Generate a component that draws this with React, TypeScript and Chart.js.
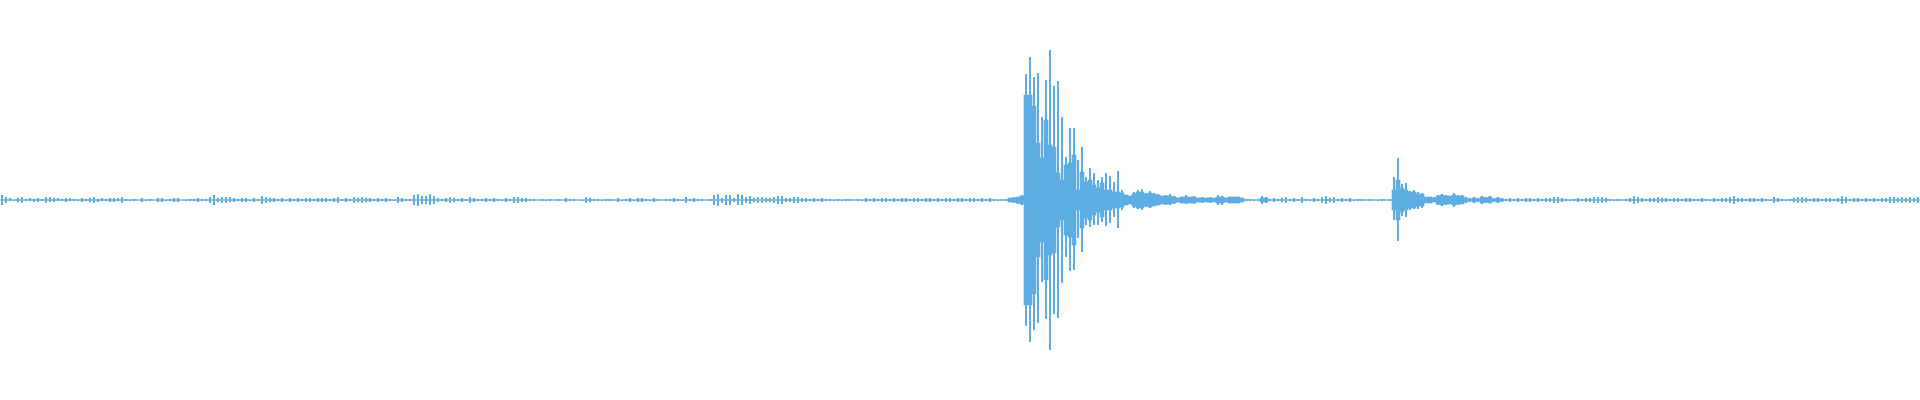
import React, { useEffect, useRef } from "react";
import { Chart, registerables } from "chart.js";

Chart.register(...registerables);

// Waveform envelope, one bin per time slice (480 slices), amplitude units on a ±200 scale.
// Positive peak of each slice.
const upper = [
  5,3,2,0,2,3,1,2,1,2, 1,3,3,2,2,1,2,2,1,0, 2,1,2,3,1,2,1,2,2,2, 3,1,0,1,0,2,0,1,0,2,
  2,0,1,2,2,0,0,1,1,2, 1,1,3,5,2,3,3,3,2,1, 2,2,0,2,1,4,3,2,2,1, 2,0,2,1,2,1,2,2,1,2,
  2,2,1,2,3,1,2,1,3,2, 3,2,2,1,2,1,2,1,0,3, 2,1,1,5,6,4,4,6,4,2, 1,2,3,2,1,2,1,3,2,1,
  1,2,1,2,1,0,2,1,3,3, 2,2,1,1,0,1,0,1,0,1, 0,2,1,1,0,0,3,2,1,1, 0,1,1,0,2,0,1,2,0,2,
  2,1,0,2,1,0,1,1,2,1, 0,3,1,2,1,1,0,1,5,6, 2,5,5,2,6,5,3,4,2,3, 3,2,2,3,4,4,2,2,3,3,
  2,2,1,2,1,2,1,1,0,1, 0,1,1,0,1,0,2,1,2,1, 2,2,1,2,1,2,2,1,2,2, 1,2,2,1,2,1,2,2,1,2,
  2,1,2,2,1,2,1,2,1,0, 1,1,2,3,3,5,126,143,123,127, 83,120,150,114,119,83,43,72,72,40, 53,23,32,27,20,23,27,24,18,29,
  10,5,4,8,10,11,7,9,7,6, 4,5,6,4,2,3,5,3,4,2, 3,2,3,2,5,4,2,3,3,3, 2,1,1,0,1,4,3,1,2,1,
  2,3,1,2,1,3,1,0,2,1, 3,4,2,3,1,2,1,2,0,1, 1,0,1,0,0,1,0,1,23,42, 16,17,9,10,8,7,3,3,3,5,
  6,5,4,7,5,5,3,2,3,2, 4,3,4,2,3,2,1,2,1,2, 1,2,2,1,2,1,2,2,3,3, 2,1,0,1,2,1,2,2,3,3,
  3,2,1,0,1,0,1,2,4,3, 2,1,2,2,3,2,2,1,2,2, 1,2,2,1,1,2,1,0,2,1, 2,2,3,4,2,2,1,2,2,1,
  2,1,0,3,2,1,0,1,2,3, 3,2,1,2,2,1,2,2,1,2, 4,3,1,2,2,1,2,1,2,1, 2,2,3,3,2,3,2,3,2,3,
];

// Negative peak of each slice.
const lower = [
  -5,-3,-1,-1,-2,-3,-1,-1,-2,-2, -1,-3,-2,-2,-1,-1,-2,-1,-1,-1, -2,-1,-2,-3,-2,-1,-1,-2,-2,-1, -3,-1,-1,-1,0,-2,-1,-1,0,-2,
  -2,-1,-1,-2,-2,0,-1,-1,-1,-2, -1,-1,-3,-5,-2,-3,-3,-2,-2,-1, -2,-2,-1,-2,-1,-4,-3,-2,-2,-1, -2,-1,-2,-1,-2,-1,-2,-2,-1,-2,
  -2,-2,-1,-2,-3,-1,-2,-1,-3,-2, -3,-2,-2,-1,-2,-1,-2,-1,-1,-3, -2,-1,-1,-5,-6,-4,-4,-5,-4,-2, -1,-2,-3,-2,-1,-2,-1,-3,-2,-1,
  -1,-2,-1,-2,-1,-1,-2,-1,-3,-3, -2,-2,-1,-1,0,-1,-1,-1,0,-1, 0,-2,-1,-1,0,-1,-3,-2,-1,-1, -1,-1,-1,0,-2,-1,-1,-2,-1,-2,
  -2,-1,-1,-2,-1,0,-1,-1,-2,-1, -1,-3,-1,-2,-1,-1,0,-1,-5,-6, -3,-5,-5,-2,-5,-5,-3,-4,-2,-3, -3,-2,-2,-3,-4,-4,-2,-2,-3,-3,
  -2,-2,-1,-2,-1,-2,-1,-1,-1,-1, -1,-1,-1,0,-1,-1,-2,-1,-2,-1, -2,-2,-1,-2,-1,-2,-2,-1,-2,-2, -1,-2,-2,-1,-2,-1,-2,-2,-1,-2,
  -2,-1,-2,-2,-1,-2,-1,-2,-1,-1, -1,-1,-2,-3,-4,-5,-126,-142,-130,-123, -82,-119,-150,-114,-118,-83,-57,-71,-70,-38, -52,-25,-27,-25,-25,-22,-26,-23,-17,-28,
  -10,-5,-4,-8,-9,-10,-7,-8,-6,-5, -4,-5,-5,-4,-2,-3,-4,-3,-4,-2, -3,-2,-3,-2,-5,-5,-2,-3,-3,-3, -2,-1,-1,-1,-1,-4,-3,-1,-2,-1,
  -2,-3,-1,-2,-1,-3,-1,-1,-2,-1, -3,-4,-2,-3,-1,-2,-1,-2,-1,-1, -1,0,-1,0,-1,-1,0,-1,-20,-41, -16,-17,-10,-9,-9,-8,-3,-3,-2,-5,
  -6,-5,-4,-7,-5,-4,-3,-2,-3,-2, -4,-3,-3,-2,-3,-2,-1,-2,-1,-2, -1,-2,-2,-1,-2,-1,-2,-2,-3,-3, -2,-1,-1,-1,-2,-1,-2,-2,-3,-3,
  -3,-2,-1,-1,-1,0,-1,-2,-4,-3, -2,-1,-2,-2,-3,-2,-2,-1,-2,-2, -1,-2,-2,-1,-1,-2,-1,-1,-2,-1, -2,-2,-3,-4,-2,-2,-1,-2,-2,-1,
  -2,-1,-1,-3,-2,-1,-1,-1,-2,-3, -3,-2,-1,-2,-2,-1,-2,-2,-1,-2, -4,-3,-1,-2,-2,-1,-2,-1,-2,-1, -2,-2,-3,-3,-2,-3,-2,-3,-2,-3,
];

// Half-height of the solid (densely filled) band inside each slice.
const coreBand = [
  0,0,0,0,0,0,0,0,0,0, 0,0,0,0,0,0,0,0,0,0, 0,0,0,0,0,0,0,0,0,0, 0,0,0,0,0,0,0,0,0,0,
  0,0,0,0,0,0,0,0,0,0, 0,0,0,0,0,0,0,0,0,0, 0,0,0,0,0,0,0,0,0,0, 0,0,0,0,0,0,0,0,0,0,
  0,0,0,0,0,0,0,0,0,0, 0,0,0,0,0,0,0,0,0,0, 0,0,0,0,0,0,0,0,0,0, 0,0,0,0,0,0,0,0,0,0,
  0,0,0,0,0,0,0,0,0,0, 0,0,0,0,0,0,0,0,0,0, 0,0,0,0,0,0,0,0,0,0, 0,0,0,0,0,0,0,0,0,0,
  0,0,0,0,0,0,0,0,0,0, 0,0,0,0,0,0,0,0,0,0, 0,0,0,0,0,0,0,0,0,0, 0,0,0,0,0,0,0,0,0,0,
  0,0,0,0,0,0,0,0,0,0, 0,0,0,0,0,0,0,0,0,0, 0,0,0,0,0,0,0,0,0,0, 0,0,0,0,0,0,0,0,0,0,
  0,0,0,0,0,0,0,0,0,0, 0,0,2,2,3,4,105,105,94,57, 42,80,55,53,27,20,35,37,45,10, 28,18,20,15,12,17,10,10,8,8,
  7,5,4,6,8,8,6,7,6,5, 4,4,4,3,2,3,3,3,3,2, 2,2,2,2,3,3,2,3,3,3, 2,0,0,0,0,2,2,0,0,0,
  0,0,0,0,0,0,0,0,0,0, 0,0,0,0,0,0,0,0,0,0, 0,0,0,0,0,0,0,0,10,20, 12,10,8,8,6,6,3,3,2,4,
  5,4,4,5,4,4,2,1,2,1, 3,2,3,1,2,1,0,0,0,0, 0,0,0,0,0,0,0,0,0,0, 0,0,0,0,0,0,0,0,0,0,
  0,0,0,0,0,0,0,0,0,0, 0,0,0,0,0,0,0,0,0,0, 0,0,0,0,0,0,0,0,0,0, 0,0,0,0,0,0,0,0,0,0,
  0,0,0,0,0,0,0,0,0,0, 0,0,0,0,0,0,0,0,0,0, 0,0,0,0,0,0,0,0,0,0, 0,0,0,0,0,0,0,0,0,0,
];

const slices = upper.map((_, i) => String(i));
const WAVE_COLOR = "#5dade2";

export default function App() {
  const canvasRef = useRef<HTMLCanvasElement | null>(null);

  useEffect(() => {
    document.body.style.margin = "0";
    const canvas = canvasRef.current;
    if (!canvas) return;
    const chart = new Chart(canvas, {
      type: "bar",
      data: {
        labels: slices,
        datasets: [
          {
            type: "line",
            data: slices.map(() => 0),
            borderColor: WAVE_COLOR,
            borderWidth: 1,
            pointRadius: 0,
            order: 3,
          } as any,
          {
            type: "bar",
            data: coreBand.map((c) => [-c, c]),
            backgroundColor: WAVE_COLOR,
            borderWidth: 0,
            barPercentage: 1,
            categoryPercentage: 1,
            grouped: false,
            order: 2,
          } as any,
          {
            type: "bar",
            data: upper.map((u, i) => [lower[i], u]),
            backgroundColor: WAVE_COLOR,
            borderWidth: 0,
            barPercentage: 0.5,
            categoryPercentage: 1,
            grouped: false,
            order: 1,
          } as any,
        ],
      },
      options: {
        responsive: false,
        maintainAspectRatio: false,
        animation: false,
        devicePixelRatio: 1,
        layout: { padding: 0 },
        plugins: { legend: { display: false }, tooltip: { enabled: false } },
        scales: {
          x: { display: false, grid: { display: false } },
          y: { display: false, min: -200, max: 200, grid: { display: false } },
        },
      },
    });
    return () => chart.destroy();
  }, []);

  return (
    <div style={{ width: 1920, height: 400 }}>
      <canvas ref={canvasRef} width={1920} height={400} />
    </div>
  );
}
